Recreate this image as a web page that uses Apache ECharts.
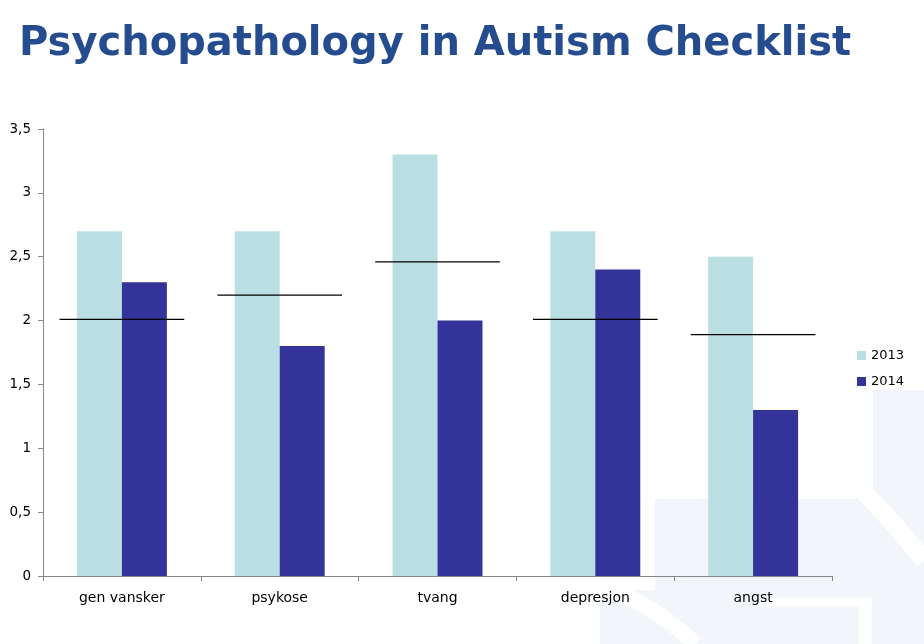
<!DOCTYPE html>
<html>
<head>
<meta charset="utf-8">
<script src="https://cdn.jsdelivr.net/npm/echarts@6/dist/echarts.min.js"></script>
<style>
html,body{margin:0;padding:0;background:#fff;}
#c{width:924px;height:644px;}
</style>
</head>
<body>
<div id="c"></div>
<script>
var categories = ['gen vansker', 'psykose', 'tvang', 'depresjon', 'angst'];
var values2013 = [2.7, 2.7, 3.3, 2.7, 2.5];
var values2014 = [2.3, 1.8, 2.0, 2.4, 1.3];
var referenceLevels = [2.01, 2.2, 2.46, 2.01, 1.89];
var seriesNames = ['2013', '2014'];
var titleText = 'Psychopathology in Autism Checklist';

var chart = echarts.init(document.getElementById('c'), null, {renderer: 'canvas'});

var refData = referenceLevels.map(function (v, i) { return [i, v]; });
var bgFill = '#F2F6FA';

var option = {
  backgroundColor: '#ffffff',
  animation: false,
  graphic: [
    {type: 'rect', z: -10, silent: true, shape: {x: 655, y: 499, width: 269, height: 145}, style: {fill: bgFill}},
    {type: 'rect', z: -10, silent: true, shape: {x: 873, y: 390, width: 51, height: 110}, style: {fill: bgFill}},
    {type: 'rect', z: -10, silent: true, shape: {x: 600, y: 590, width: 60, height: 54}, style: {fill: bgFill}},
    {type: 'bezierCurve', z: -9, silent: true, shape: {x1: 850, y1: 480, x2: 924, y2: 560, cpx1: 875, cpy1: 500}, style: {fill: 'none', stroke: '#ffffff', lineWidth: 18}},
    {type: 'line', z: -9, silent: true, shape: {x1: 760, y1: 602, x2: 872, y2: 602}, style: {stroke: '#ffffff', lineWidth: 9}},
    {type: 'line', z: -9, silent: true, shape: {x1: 865, y1: 598, x2: 865, y2: 644}, style: {stroke: '#ffffff', lineWidth: 13}},
    {type: 'bezierCurve', z: -9, silent: true, shape: {x1: 595, y1: 585, x2: 695, y2: 644, cpx1: 650, cpy1: 600}, style: {fill: 'none', stroke: '#ffffff', lineWidth: 16}},
    {type: 'text', z: 10, left: 19, top: 25, style: {
      text: titleText, fill: '#254C8E',
      font: 'bold 40px "DejaVu Sans", Verdana, sans-serif'
    }}
  ],
  legend: {
    data: seriesNames,
    orient: 'vertical',
    left: 852,
    top: 344,
    itemWidth: 9,
    itemHeight: 9,
    itemGap: 13,
    icon: 'rect',
    textStyle: {fontFamily: '"DejaVu Sans", Verdana, sans-serif', fontSize: 13, color: '#000'}
  },
  grid: {left: 43, right: 92, top: 129, bottom: 68, containLabel: false},
  xAxis: {
    type: 'category',
    data: categories,
    axisLine: {show: true, lineStyle: {color: '#868686', width: 1}},
    axisTick: {show: true, alignWithLabel: false, length: 5, lineStyle: {color: '#868686'}},
    axisLabel: {fontFamily: '"DejaVu Sans", Verdana, sans-serif', fontSize: 14, color: '#000', margin: 15}
  },
  yAxis: {
    type: 'value',
    min: 0, max: 3.5, interval: 0.5,
    splitLine: {show: false},
    axisLine: {show: true, lineStyle: {color: '#868686', width: 1}},
    axisTick: {show: true, length: 5, lineStyle: {color: '#868686'}},
    axisLabel: {
      fontFamily: '"DejaVu Sans", Verdana, sans-serif', fontSize: 13.5, color: '#000', margin: 12,
      formatter: function (v) { return String(v).replace('.', ','); }
    }
  },
  series: [
    {name: seriesNames[0], type: 'bar', data: values2013, barGap: '0%', barCategoryGap: '43%',
     itemStyle: {color: '#B9DFE3'}},
    {name: seriesNames[1], type: 'bar', data: values2014, barGap: '0%', barCategoryGap: '43%',
     itemStyle: {color: '#333399'}},
    {name: 'ref', type: 'custom', data: refData, z: 5,
     renderItem: function (params, api) {
       var p = api.coord([api.value(0), api.value(1)]);
       var band = api.size([1, 0])[0];
       var half = band * 0.395;
       return {
         type: 'line',
         shape: {x1: p[0] - half, y1: p[1], x2: p[0] + half, y2: p[1]},
         style: {stroke: '#000', lineWidth: 1.3}
       };
     }}
  ]
};
chart.setOption(option);
</script>
</body>
</html>
